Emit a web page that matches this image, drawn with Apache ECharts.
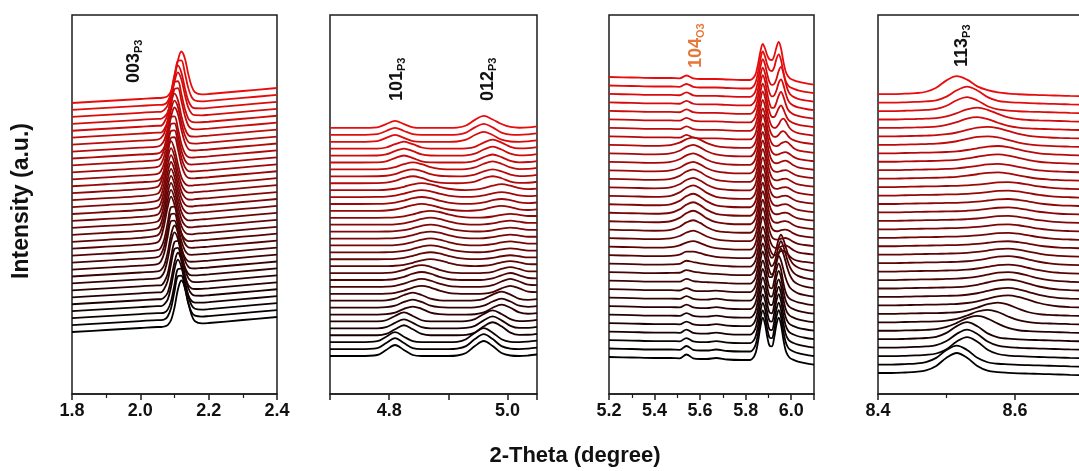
<!DOCTYPE html>
<html>
<head>
<meta charset="utf-8">
<script src="https://cdn.jsdelivr.net/npm/echarts@6/dist/echarts.min.js"></script>
<style>
  html, body { margin: 0; background: #fff; }
  #chart { width: 1079px; height: 471px; }
</style>
</head>
<body>
<div id="chart"></div>
<script>
// 34 stacked scans, row 0 = first scan (black, bottom), row 33 = last (red, top)
// intensities in a.u.; each row is added on top of its stack offset
const CURVES = 34;
const Y_TOP = 379;
const FONT = '"Liberation Sans Narrow", "Liberation Sans", Arial, sans-serif';

// ---- panel 1 : 003 (P3)
const x1 = [1.8, 1.9, 2.0, 2.05, 2.06, 2.07, 2.08, 2.09, 2.1, 2.11, 2.12, 2.13, 2.14, 2.15, 2.16, 2.18, 2.2, 2.3, 2.4];
const bg1 = [0, 2, 4, 5, 5, 5.5, 5.5, 6, 6, 6.5, 6.5, 7, 7, 7.5, 8, 8.5, 9, 12, 15];
const base1 = 62, step1 = 6.94;
const p1 = [
  [0,0,0,0,0,0,1.4,6,18.5,36,45,38,22.5,9.5,2.8,0.1,0,0,0],
  [0,0,0,0,0,0,3,11,27.5,42.5,43,30.5,15.3,5.4,1.4,0,0,0,0],
  [0,0,0,0,0,0,3,11,27.5,42.5,43,30.5,15.3,5.4,1.4,0,0,0,0],
  [0,0,0,0,0,1.4,6,18.5,36,45,38,22.5,9.5,2.8,0.6,0,0,0,0],
  [0,0,0,0,0,1.4,6,18.5,36,45,38,22.5,9.5,2.8,0.6,0,0,0,0],
  [0,0,0,0,0,3,11,27.5,42.5,43,30.5,15.3,5.4,1.4,0.3,0,0,0,0],
  [0,0,0,0,0,3,11,27.5,42.5,43,30.5,15.3,5.4,1.4,0.3,0,0,0,0],
  [0,0,0,0,1.4,6,18.5,36,45,38,22.5,9.5,2.8,0.6,0,0,0,0,0],
  [0,0,0,0,1.4,6,18.5,36,45,38,22.5,9.5,2.8,0.6,0,0,0,0,0],
  [0,0,0,0.5,3,11,27.5,42.5,43,30.5,15.3,5.4,1.4,0.3,0,0,0,0,0],
  [0,0,0,0.5,3,11,27.5,42.5,43,30.5,15.3,5.4,1.4,0.3,0,0,0,0,0],
  [0,0,0,0.5,3,11,27.5,42.5,43,30.5,15.3,5.4,1.4,0.3,0,0,0,0,0],
  [0,0,0,1.4,6,18.5,36,46,38,22.5,9.5,2.8,0.6,0,0,0,0,0,0],
  [0,0,0,1.4,6,18.5,36,46,38,22.5,9.5,2.8,0.6,0,0,0,0,0,0],
  [0,0,0,1.4,6,18.5,36,46,38,22.5,9.5,2.8,0.6,0,0,0,0,0,0],
  [0,0,0,1.4,6,18.5,36,46,38,22.5,9.5,2.8,0.6,0,0,0,0,0,0],
  [0,0,0,1.4,6,18.5,36,46,38,22.5,9.5,2.8,0.6,0,0,0,0,0,0],
  [0,0,0,1.4,6,18.5,36,46,38,22.5,9.5,2.8,0.6,0,0,0,0,0,0],
  [0,0,0,1.4,6,18.5,36,46,38,22.5,9.5,2.8,0.6,0,0,0,0,0,0],
  [0,0,0,1.4,6,18.5,36,46,38,22.5,9.5,2.8,0.6,0,0,0,0,0,0],
  [0,0,0,1.4,6,18.5,36,46,38,22.5,9.5,2.8,0.6,0,0,0,0,0,0],
  [0,0,0,0.5,3,11,27.5,42.5,43,30.5,15.3,5.4,1.4,0.3,0,0,0,0,0],
  [0,0,0,0.5,3,11,27.5,42.5,43,30.5,15.3,5.4,1.4,0.3,0,0,0,0,0],
  [0,0,0,0.5,3,11,27.5,42.5,43,30.5,15.3,5.4,1.4,0.3,0,0,0,0,0],
  [0,0,0,0.5,3,11,27.5,42.5,43,30.5,15.3,5.4,1.4,0.3,0,0,0,0,0],
  [0,0,0,0,1.4,6,18.5,36,45,38,22.5,9.5,2.8,0.6,0,0,0,0,0],
  [0,0,0,0,1.4,6,18.5,36,45,38,22.5,9.5,2.8,0.6,0,0,0,0,0],
  [0,0,0,0,1.4,6,18.5,36,45,38,22.5,9.5,2.8,0.6,0,0,0,0,0],
  [0,0,0,0,0,3,11,27.5,42.5,43,30.5,15.3,5.4,1.4,0.3,0,0,0,0],
  [0,0,0,0,0,3,11,27.5,42.5,43,30.5,15.3,5.4,1.4,0.3,0,0,0,0],
  [0,0,0,0,0,1.4,6,18.5,36,45,38,22.5,9.5,2.8,0.6,0,0,0,0],
  [0,0,0,0,0,1.4,6,18.5,36,45,38,22.5,9.5,2.8,0.6,0,0,0,0],
  [0,0,0,0,0,0,3,11,27.5,42.5,43,30.5,15.3,5.4,1.4,0,0,0,0],
  [0,0,0,0,0,0,1.4,6,18.5,36,45,38,22.5,9.5,2.8,0.1,0,0,0]
];

// ---- panel 2 : 101 / 012 (P3)
const x2 = [4.70, 4.75, 4.78, 4.795, 4.81, 4.825, 4.84, 4.855, 4.87, 4.885, 4.90, 4.915, 4.93, 4.945, 4.96, 4.975, 4.99, 5.005, 5.02, 5.035, 5.05];
const bg2 = [0,0,0,0,0,0,0,0,0,0,0,0,0,0,0,0,0,0,0,0.5,1.5];
const base2 = 38, step2 = 6.91;
const p2 = [
  [0,0,1,6,11,6,1,0,0,0,0,0.5,3,10,15,10,3,0.5,0,0,0],
  [0,0,1,6,11,6,1,0,0,0,0,0.5,3,10,15,10,3,0.5,0,0,0],
  [0,0,1,5.5,10,5.5,1,0,0,0,0,0.4,3,9.5,14,9.5,3,0.4,0,0,0],
  [0,0,0,1.4,6,10,6,1.4,0,0,0,0,0.4,2.7,9,13,9,2.7,0.4,0,0],
  [0,0,0,1.2,5.5,9,5.5,1.2,0,0,0,0,0.4,2.5,8,12,8,2.5,0.4,0,0],
  [0,0,0,1.2,5.5,9,5.5,1.2,0,0,0,0,0.3,2.3,7.5,11,7.5,2.3,0.3,0,0],
  [0,0,0,0.4,2,5.7,8,5.7,2,0.4,0,0,0,0.3,2.1,6.8,10,6.8,2.1,0.3,0],
  [0,0,0,0.4,2,5.7,8,5.7,2,0.4,0,0,0,0.3,1.9,6.1,9,6.1,1.9,0.3,0],
  [0,0,0,0.4,2,5.7,8,5.7,2,0.4,0,0,0,0.3,1.9,6.1,9,6.1,1.9,0.3,0],
  [0,0,0,0.2,1,3.2,6.3,8,6.3,3.2,1,0.2,0,0,0.2,1.7,5.4,8,5.4,1.7,0.2],
  [0,0,0,0.2,1,3.2,6.3,8,6.3,3.2,1,0.2,0,0,0.2,1.7,5.4,8,5.4,1.7,0.2],
  [0,0,0,0.2,1,3.2,6.3,8,6.3,3.2,1,0.2,0,0,0.2,1.5,4.7,7,4.7,1.5,0.2],
  [0,0,0,0.2,1,3.2,6.3,8,6.3,3.2,1,0.2,0,0,0.2,1.3,4.1,6,4.1,1.3,0.2],
  [0,0,0,0.1,0.4,1.4,3.4,5.8,7,5.8,3.4,1.4,0.4,0.1,0.4,1.6,3.8,5,3.8,1.6,0.4],
  [0,0,0,0.1,0.4,1.4,3.4,5.8,7,5.8,3.4,1.4,0.4,0.1,0.3,1.3,3,4,3,1.3,0.3],
  [0,0,0,0.1,0.4,1.4,3.4,5.8,7,5.8,3.4,1.4,0.4,0.1,0.3,1.3,3,4,3,1.3,0.3],
  [0,0,0,0.1,0.4,1.4,3.4,5.8,7,5.8,3.4,1.4,0.4,0.1,0.3,1.3,3,4,3,1.3,0.3],
  [0,0,0,0.1,0.4,1.4,3.4,5.8,7,5.8,3.4,1.4,0.4,0.1,0.3,1.3,3,4,3,1.3,0.3],
  [0,0,0,0.1,0.4,1.4,3.4,5.8,7,5.8,3.4,1.4,0.4,0.1,0.3,1.3,3,4,3,1.3,0.3],
  [0,0,0,0.1,0.4,1.4,3.4,5.8,7,5.8,3.4,1.4,0.4,0.1,0.3,1.3,3,4,3,1.3,0.3],
  [0,0,0,0.1,0.4,1.4,3.4,5.8,7,5.8,3.4,1.4,0.4,0.1,0.3,1.3,3,4,3,1.3,0.3],
  [0,0,0.1,0.4,1.4,3.4,5.8,7,5.8,3.4,1.4,0.4,0.1,0.4,1.6,3.8,5,3.8,1.6,0.4,0],
  [0,0,0.1,0.4,1.4,3.4,5.8,7,5.8,3.4,1.4,0.4,0.1,0.4,1.6,3.8,5,3.8,1.6,0.4,0],
  [0,0,0.1,0.4,1.4,3.4,5.8,7,5.8,3.4,1.4,0.4,0.1,0.4,1.6,3.8,5,3.8,1.6,0.4,0],
  [0,0,0.1,0.4,1.4,3.4,5.8,7,5.8,3.4,1.4,0.4,0.1,0.5,2,4.5,6,4.5,2,0.5,0],
  [0,0,0.1,0.6,2.3,5.3,7,5.3,2.3,0.6,0.1,0,0.3,1.7,5,7,5,1.7,0.3,0,0],
  [0,0,0.1,0.6,2.3,5.3,7,5.3,2.3,0.6,0.1,0,0.3,1.7,5,7,5,1.7,0.3,0,0],
  [0,0,0.1,0.6,2.3,5.3,7,5.3,2.3,0.6,0.1,0,0.35,2,5.7,8,5.7,2,0.35,0,0],
  [0,0,0.1,1.2,4.5,7,4.5,1.2,0.1,0,0,0,0.2,1.7,5.4,8,5.4,1.7,0.2,0,0],
  [0,0,0.1,1.2,4.5,7,4.5,1.2,0.1,0,0,0,0.3,1.9,6.1,9,6.1,1.9,0.3,0,0],
  [0,0,0.1,1.2,4.5,7,4.5,1.2,0.1,0,0,0,0.3,1.9,6.1,9,6.1,1.9,0.3,0,0],
  [0,0,0.7,3.9,7,3.9,0.7,0,0,0,0,0.3,2.1,6.8,10,6.8,2.1,0.3,0,0,0],
  [0,0,0.7,3.9,7,3.9,0.7,0,0,0,0,0.3,2.3,7.5,11,7.5,2.3,0.3,0,0,0],
  [0,0,0.7,3.9,7,3.9,0.7,0,0,0,0,0.4,2.5,8.1,12,8.5,4,1,0.2,0,0]
];

// ---- panel 3 : 104 (O3) hump and the P3 doublet
const x3 = [5.2, 5.3, 5.4, 5.47, 5.51, 5.54, 5.57, 5.6, 5.63, 5.67, 5.72, 5.78, 5.82,
  5.835, 5.845, 5.855, 5.865, 5.875, 5.885, 5.895, 5.905, 5.915, 5.925, 5.935, 5.945, 5.955,
  5.965, 5.975, 5.985, 5.995, 6.01, 6.03, 6.06, 6.1];
const bg3 = [0,-0.5,-1,-1,-1.5,-1.5,-1.5,-2,-2,-2,-2.5,-3,-3,-3,-3,-3,-3.5,-3.5,-3.5,-3.5,-3.5,-4,-4,-4,-4,-4,-4.5,-4.5,-4.5,-4.5,-5,-6,-7,-8];
const base3 = 37, step3 = 8.485;
const p3 = [
  [0,0,0,0,0.2,4,0.2,0,0,1,0,0,0, 2.8,7.9,19.3,34.2,42.8,36.4,23.5,14.7,14.7,23.1,36.3,43.4,36.4,22.7,11.6,6.1,3.4,2.1,1.4,0.8,0.4],
  [0,0,0,0,0.2,4,0.2,0,0,1,0,0,0, 2.8,7.7,18.9,33.3,41.7,35.4,22.9,14.4,14.3,22.6,35.4,42.4,35.5,22.2,11.4,5.9,3.4,2,1.3,0.8,0.4],
  [0,0,0,0,0.2,3.5,0.2,0,0,1,0,0,0, 2.6,7.5,18.4,32.5,40.7,34.6,22.4,14,14,22,34.6,41.3,34.6,21.6,11.1,5.8,3.3,2,1.3,0.8,0.4],
  [0,0,0,0,0.2,3.5,0.2,0,0,1,0,0,0, 2.6,7.5,18.4,32.5,40.7,34.6,22.4,14,14,22,34.6,41.3,34.6,21.6,11.1,5.8,3.3,2,1.3,0.8,0.4],
  [0,0,0,0,0.2,3,0.2,0,0,1,0,0,0, 2.6,7.5,18.4,32.5,40.7,34.6,22.4,13.9,13.8,21.5,33.8,40.3,33.8,21.1,10.8,5.7,3.2,2,1.3,0.8,0.4],
  [0,0,0,0,0.2,3,0.2,0,0,1,0,0,0, 2.6,7.5,18.4,32.5,40.7,34.6,22.3,13.8,13.6,21,33,39.3,32.9,20.6,10.6,5.5,3.2,1.9,1.3,0.8,0.4],
  [0,0,0,0,0.2,3,0.2,0,0,1,0,0,0, 2.6,7.5,18.4,32.5,40.7,34.6,22.3,13.8,13.6,21,33,39.3,32.9,20.6,10.6,5.5,3.2,1.9,1.3,0.8,0.4],
  [0,0,0,0,0.2,3,0.2,0,0,1,0,0,0, 2.6,7.5,18.4,32.5,40.7,34.5,22.3,13.7,13.3,20.6,32.1,38.3,32.1,20,10.3,5.4,3.1,1.9,1.2,0.8,0.4],
  [0,0,0,0,0.1,2.5,0.1,0,0,0.5,0,0,0, 2.7,7.6,18.5,32.7,41.1,35,23.3,15.4,16,23,32.4,37.3,32.7,24.6,16.2,10,5.9,3.3,1.7,0.9,0.5],
  [0,0,0,0.1,0.5,3.3,1.1,0.8,0.4,0.1,0,0,0, 2.6,7.5,18.4,32.5,40.7,34.7,22.2,12.9,10.1,13.3,21.4,31.1,36,31.6,23.8,15.6,9.6,4.6,2.4,1.1,0.5],
  [0,0,0,0.2,0.9,3.6,2.1,1.6,0.8,0.2,0,0,0, 2.6,7.5,18.3,32.5,40.7,34.6,22.2,12.8,10,13,20.8,30.2,35,30.7,23.1,15.2,9.3,4.5,2.3,1.1,0.5],
  [0,0,0,0.3,1.3,4.4,3.1,2.4,1.2,0.3,0,0,0, 2.6,7.5,18.3,32.5,40.6,34.6,22.1,12.6,9.7,12.4,19.7,28.5,33,29,21.8,14.4,8.8,4.2,2.2,1,0.5],
  [0,0,0,0.4,2.1,5,5,4,2.1,0.4,0,0,0, 2.5,7.6,18.9,33.6,42,35.3,21.8,11,5.8,4,4.5,6.3,8.1,8.9,7.7,5.5,3.1,1,0.3,0.2,0.1],
  [0,0,0,0.6,2.9,5.6,7,5.6,2.9,0.6,0,0,0, 2.5,7.6,18.9,33.6,42,35.3,21.8,10.9,5.6,3.1,2.6,3,4.1,5.3,5.7,5,3.5,1.5,0.4,0.2,0.1],
  [0,0,0,0.8,3.7,7.2,9,7.2,3.7,0.8,0,0,0, 2.5,7.6,18.9,33.6,42,35.3,21.8,10.9,5.5,3.1,2.5,2.7,3.5,4.4,4.7,4.1,2.9,1.3,0.4,0.2,0.1],
  [0,0,0,0.9,4.5,8.8,11,8.8,4.5,0.9,0,0,0, 2.5,7.6,18.9,33.6,42,35.3,21.8,10.9,5.5,3.1,2.5,2.7,3.5,4.4,4.7,4.1,2.9,1.3,0.4,0.2,0.1],
  [0,0,0,1,4.9,9.6,12,9.6,4.9,1,0,0,0, 2.5,7.6,18.9,33.6,42,35.3,21.8,10.9,5.5,3.1,2.5,2.7,3.5,4.4,4.7,4.1,2.9,1.3,0.4,0.2,0.1],
  [0,0,0,1,4.9,9.6,12,9.6,4.9,1,0,0,0, 2.5,7.6,18.9,33.6,42,35.3,21.8,10.9,5.5,3.1,2.5,2.7,3.5,4.4,4.7,4.1,2.9,1.3,0.4,0.2,0.1],
  [0,0,0,1,4.9,9.6,12,9.6,4.9,1,0,0,0, 2.5,7.6,18.9,33.6,42,35.3,21.8,10.9,5.5,3.1,2.5,2.7,3.5,4.4,4.7,4.1,2.9,1.3,0.4,0.2,0.1],
  [0,0,0,1,4.9,9.6,12,9.6,4.9,1,0,0,0, 2.5,7.6,18.9,33.6,42,35.3,21.8,10.9,5.5,3.1,2.5,2.7,3.5,4.4,4.7,4.1,2.9,1.3,0.4,0.2,0.1],
  [0,0,0,0.9,4.5,8.8,11,8.8,4.5,0.9,0,0,0, 2.5,7.6,18.9,33.6,42,35.3,21.8,10.9,5.5,3.1,2.5,2.7,3.5,4.4,4.7,4.1,2.9,1.3,0.4,0.2,0.1],
  [0,0,0,0.9,4.5,8.8,11,8.8,4.5,0.9,0,0,0, 2.5,7.6,18.9,33.6,42,35.3,21.8,10.9,5.5,3.1,2.5,2.7,3.5,4.4,4.7,4.1,2.9,1.3,0.4,0.2,0.1],
  [0,0,0,0.9,4.1,8,10,8,4.1,0.9,0,0,0, 2.5,7.6,18.9,33.6,42,35.3,21.8,10.9,5.5,3.1,2.5,2.7,3.5,4.4,4.7,4.1,2.9,1.3,0.4,0.2,0.1],
  [0,0,0,0.9,4.1,8,10,8,4.1,0.9,0,0,0, 2.5,7.6,18.9,33.6,42,35.3,21.8,10.9,5.6,3.1,2.6,3,4.1,5.3,5.7,5,3.5,1.5,0.4,0.2,0.1],
  [0,0,0,0.9,4.1,8,10,8,4.1,0.9,0,0,0, 2.5,7.6,18.9,33.6,42,35.3,21.8,10.9,5.6,3.1,2.6,3,4.1,5.3,5.7,5,3.5,1.5,0.4,0.2,0.1],
  [0,0,0,0.8,3.7,7.2,9,7.2,3.7,0.8,0,0,0, 2.4,7.2,18,32,40,33.6,20.8,10.4,5.3,3.1,2.8,3.5,5.3,7,7.7,6.8,4.8,1.9,0.4,0.2,0.1],
  [0,0,0,0,0.2,3,0.2,0,0,0,0,0,0, 2.4,7.2,18.1,32.1,40.1,33.7,21,10.6,5.6,3.6,3.8,5.6,8.4,9.8,8.3,5.3,2.8,1.2,0.7,0.4,0.2],
  [0,0,0,0,0.2,3,0.2,0,0,0,0,0,0, 2.5,7.3,18.1,32.1,40.1,33.8,21,10.7,5.7,4,4.7,7.5,11.7,13.8,11.6,7.4,3.9,1.6,0.8,0.5,0.2],
  [0,0,0,0,0.2,3,0.2,0,0,0,0,0,0, 2.4,7.1,17.7,31.4,39.2,33.1,20.7,10.8,6.6,6.4,10,15.2,18,15.1,9.5,4.9,2.7,1.3,0.8,0.5,0.3],
  [0,0,0,0,0.2,3,0.2,0,0,0,0,0,0, 2.4,7.1,17.8,31.4,39.3,33.2,20.9,11,7.1,7.5,12.4,19.3,23,19.3,12.1,6.2,3.4,1.6,1,0.6,0.3],
  [0,0,0,0,0.2,3,0.2,0,0,0,0,0,0, 2.4,7,17.3,30.7,38.3,32.6,22,13,10,11,16,23.5,27,22.6,14.1,7.3,3.9,1.8,1.1,0.7,0.3],
  [0,0,0,0,0.2,3,0.2,0,0,0,0,0,0, 2.5,7,17.3,30.7,38.4,33,23,15,13,14,19,27,31,26,16.2,8.3,4.4,2.1,1.2,0.7,0.4],
  [0,0,0,0,0.2,3,0.2,0,0,0,0,0,0, 2.4,7,17,30,37.6,32.5,24,19,18.5,22,30.5,35.2,29.6,18.5,9.4,4.9,2.8,1.8,1.2,0.7,0.4],
  [0,0,0,0,0.2,3,0.2,0,0,0,0,0,0, 2.4,6.8,16.6,29.3,36.7,32,25,21,21,25,33.5,39.2,32.8,20.6,10.5,5.4,3.1,1.9,1.3,0.8,0.4]
];

// ---- panel 4 : 113 (P3)
const x4 = [8.4, 8.42, 8.44, 8.455, 8.47, 8.485, 8.5, 8.515, 8.53, 8.545, 8.56, 8.575, 8.59, 8.605, 8.62, 8.635, 8.65, 8.665, 8.68, 8.72, 8.76, 8.8];
const bg4 = [0,0,0.3,0.5,0.7,0.8,1,1,1,0.8,0.5,0.3,0,-0.3,-0.6,-0.9,-1.2,-1.5,-1.8,-2.5,-3,-3.5];
const base4 = 21, step4 = 8.45;
const p4 = [
  [0,0,0.2,0.6,1.9,6.3,14.3,19,14.3,6.3,1.9,0.6,0.2,0,0,0,0,0,0,0,0,0],
  [0,0,0.2,0.5,1.8,5.9,13.6,18,13.6,5.9,1.8,0.5,0.2,0,0,0,0,0,0,0,0,0],
  [0,0,0,0.2,0.5,1.8,5.9,13.6,18,13.6,5.9,1.8,0.5,0.2,0,0,0,0,0,0,0,0],
  [0,0,0,0.2,0.5,1.7,5.6,12.8,17,12.8,5.6,1.7,0.5,0.2,0,0,0,0,0,0,0,0],
  [0,0,0,0.2,0.5,1.6,5.3,12.1,16,12.1,5.3,1.6,0.5,0.2,0,0,0,0,0,0,0,0],
  [0,0,0,0,0.2,0.8,2.8,6.8,11.7,14,11.7,6.8,2.8,0.8,0.2,0,0,0,0,0,0,0],
  [0,0,0,0,0,0.1,0.7,2.4,5.8,10,12,10,5.8,2.4,0.7,0.1,0,0,0,0,0,0],
  [0,0,0,0,0,0,0.1,0.6,2.2,5.4,9.2,11,9.2,5.4,2.2,0.6,0.1,0,0,0,0,0],
  [0,0,0,0,0,0,0.1,0.4,1.4,3.3,6.1,8.8,10,8.8,6.1,3.3,1.4,0.4,0.1,0,0,0],
  [0,0,0,0,0,0,0.1,0.4,1.2,2.9,5.5,7.9,9,7.9,5.5,2.9,1.2,0.4,0.1,0,0,0],
  [0,0,0,0,0,0,0.1,0.4,1.2,2.9,5.5,7.9,9,7.9,5.5,2.9,1.2,0.4,0.1,0,0,0],
  [0,0,0,0,0,0,0.1,0.4,1.1,2.6,4.9,7.1,8,7.1,4.9,2.6,1.1,0.4,0.1,0,0,0],
  [0,0,0,0,0,0,0.1,0.3,0.9,2.3,4.2,6.2,7,6.2,4.2,2.3,0.9,0.3,0.1,0,0,0],
  [0,0,0,0,0,0,0.1,0.3,0.9,2.3,4.2,6.2,7,6.2,4.2,2.3,0.9,0.3,0.1,0,0,0],
  [0,0,0,0,0,0,0.1,0.3,0.8,2,3.6,5.3,6,5.3,3.6,2,0.8,0.3,0.1,0,0,0],
  [0,0,0,0,0,0,0.1,0.2,0.7,1.6,3,4.4,5,4.4,3,1.6,0.7,0.2,0.1,0,0,0],
  [0,0,0,0,0,0,0.1,0.2,0.7,1.6,3,4.4,5,4.4,3,1.6,0.7,0.2,0.1,0,0,0],
  [0,0,0,0,0,0,0.1,0.2,0.7,1.6,3,4.4,5,4.4,3,1.6,0.7,0.2,0.1,0,0,0],
  [0,0,0,0,0,0,0.1,0.2,0.7,1.6,3,4.4,5,4.4,3,1.6,0.7,0.2,0.1,0,0,0],
  [0,0,0,0,0,0,0.1,0.2,0.7,1.6,3,4.4,5,4.4,3,1.6,0.7,0.2,0.1,0,0,0],
  [0,0,0,0,0,0,0.1,0.2,0.7,1.6,3,4.4,5,4.4,3,1.6,0.7,0.2,0.1,0,0,0],
  [0,0,0,0,0,0,0.1,0.2,0.7,1.6,3,4.4,5,4.4,3,1.6,0.7,0.2,0.1,0,0,0],
  [0,0,0,0,0,0,0.1,0.2,0.7,1.6,3,4.4,5,4.4,3,1.6,0.7,0.2,0.1,0,0,0],
  [0,0,0,0,0,0.1,0.3,0.8,2,3.6,5.3,6,5.3,3.6,2,0.8,0.3,0.1,0,0,0,0],
  [0,0,0,0,0,0.1,0.3,0.8,2,3.6,5.3,6,5.3,3.6,2,0.8,0.3,0.1,0,0,0,0],
  [0,0,0,0,0,0.1,0.3,0.9,2.3,4.2,6.2,7,6.2,4.2,2.3,0.9,0.3,0.1,0,0,0,0],
  [0,0,0,0,0,0.1,0.3,0.9,2.3,4.2,6.2,7,6.2,4.2,2.3,0.9,0.3,0.1,0,0,0,0],
  [0,0,0,0,0.1,0.4,1.1,2.6,4.9,7.1,8,7.1,4.9,2.6,1.1,0.4,0.1,0,0,0,0,0],
  [0,0,0,0,0.1,0.4,1.2,2.9,5.5,7.9,9,7.9,5.5,2.9,1.2,0.4,0.1,0,0,0,0,0],
  [0,0,0,0,0.1,0.6,2,4.9,8.4,10,8.4,4.9,2,0.6,0.1,0,0,0,0,0,0,0],
  [0,0,0,0,0.1,0.6,2.2,5.4,9.2,11,9.2,5.4,2.2,0.6,0.1,0,0,0,0,0,0,0],
  [0,0,0,0.1,0.4,1.3,4.3,9.8,13,9.8,4.3,1.3,0.4,0.1,0,0,0,0,0,0,0,0],
  [0,0,0,0.2,0.5,1.5,5,11.3,15,11.3,5,1.5,0.5,0.2,0,0,0,0,0,0,0,0],
  [0,0,0.2,0.5,1.7,5.6,12.8,17,13.5,7,3.5,1.5,0.6,0.2,0,0,0,0,0,0,0,0]
];

const panels = [
  {x: x1, bg: bg1, rows: p1, base: base1, step: step1},
  {x: x2, bg: bg2, rows: p2, base: base2, step: step2},
  {x: x3, bg: bg3, rows: p3, base: base3, step: step3},
  {x: x4, bg: bg4, rows: p4, base: base4, step: step4}
];

function scanColor(k) {
  const t = k / (CURVES - 1);
  return 'rgb(' + Math.round(232 * t) + ',' + Math.round(12 * t) + ',' + Math.round(12 * t) + ')';
}

const series = [];
panels.forEach((p, g) => {
  for (let k = 0; k < CURVES; k++) {
    series.push({
      type: 'line',
      xAxisIndex: g,
      yAxisIndex: g,
      data: p.x.map((x, i) => [x, p.base + k * p.step + p.bg[i] + p.rows[k][i]]),
      smooth: 0.35,
      showSymbol: false,
      silent: true,
      lineStyle: {width: 1.8, color: scanColor(k)}
    });
  }
});

const frame = {show: true, borderColor: '#1c1c1c', borderWidth: 1.5, top: 15, height: 379,
  containLabel: false, outerBoundsMode: 'none'};
const label = {fontFamily: FONT, fontWeight: 'bold', fontSize: 18, color: '#111', margin: 8};
function xAxis(g, min, max, interval, extra) {
  return Object.assign({
    type: 'value', gridIndex: g, min: min, max: max, interval: interval,
    axisLine: {show: true, onZero: false, lineStyle: {color: '#1c1c1c', width: 1.5}},
    axisTick: {show: true, length: 6, lineStyle: {color: '#1c1c1c', width: 1.5}},
    minorTick: {show: true, splitNumber: 2, length: 4, lineStyle: {color: '#1c1c1c', width: 1.2}},
    splitLine: {show: false},
    minorSplitLine: {show: false},
    axisLabel: Object.assign({}, label, {formatter: v => v.toFixed(1)})
  }, extra || {});
}

function peakTag(x, y, main, sub, color) {
  return {
    type: 'text', x: x, y: y, rotation: Math.PI / 2, silent: true,
    style: {
      text: '{m|' + main + '}{s|' + sub + '}',
      align: 'left', verticalAlign: 'middle',
      fill: color,
      rich: {
        m: {fontFamily: FONT, fontWeight: 'bold', fontSize: 18, fill: color, lineHeight: 20, verticalAlign: 'middle'},
        s: {fontFamily: FONT, fontWeight: 'bold', fontSize: 11, fill: color, lineHeight: 20, verticalAlign: 'bottom'}
      }
    }
  };
}

const chart = echarts.init(document.getElementById('chart'), null, {renderer: 'canvas'});
chart.setOption({
  animation: false,
  backgroundColor: '#fff',
  grid: [
    Object.assign({left: 72, width: 205}, frame),
    Object.assign({left: 330, width: 207}, frame),
    Object.assign({left: 609, width: 205}, frame),
    Object.assign({left: 878, width: 274}, frame)
  ],
  xAxis: [
    xAxis(0, 1.8, 2.4, 0.2),
    xAxis(1, 4.7, 5.05, 0.1, {
      minorTick: {show: false},
      axisLabel: Object.assign({}, label, {formatter: v => (Math.round(v * 10) % 2 === 0 ? v.toFixed(1) : '')})
    }),
    xAxis(2, 5.2, 6.1, 0.2),
    xAxis(3, 8.4, 8.8, 0.2)
  ],
  yAxis: [0, 1, 2, 3].map(g => ({type: 'value', gridIndex: g, min: 0, max: Y_TOP, show: false})),
  series: series,
  graphic: [
    peakTag(134, 83, '003', 'P3', '#111'),
    peakTag(397, 101, '101', 'P3', '#111'),
    peakTag(488, 101, '012', 'P3', '#111'),
    peakTag(696, 68, '104', 'O3', '#E3783A'),
    peakTag(962, 67, '113', 'P3', '#111'),
    {
      type: 'text', x: 22, y: 201, rotation: Math.PI / 2, silent: true,
      style: {text: 'Intensity (a.u.)', align: 'center', verticalAlign: 'middle',
        fontFamily: FONT, fontWeight: 'bold', fontSize: 23, fill: '#111'}
    },
    {
      type: 'text', x: 575, y: 456, silent: true,
      style: {text: '2-Theta (degree)', align: 'center', verticalAlign: 'middle',
        fontFamily: FONT, fontWeight: 'bold', fontSize: 22, fill: '#111'}
    }
  ]
});
</script>
</body>
</html>
